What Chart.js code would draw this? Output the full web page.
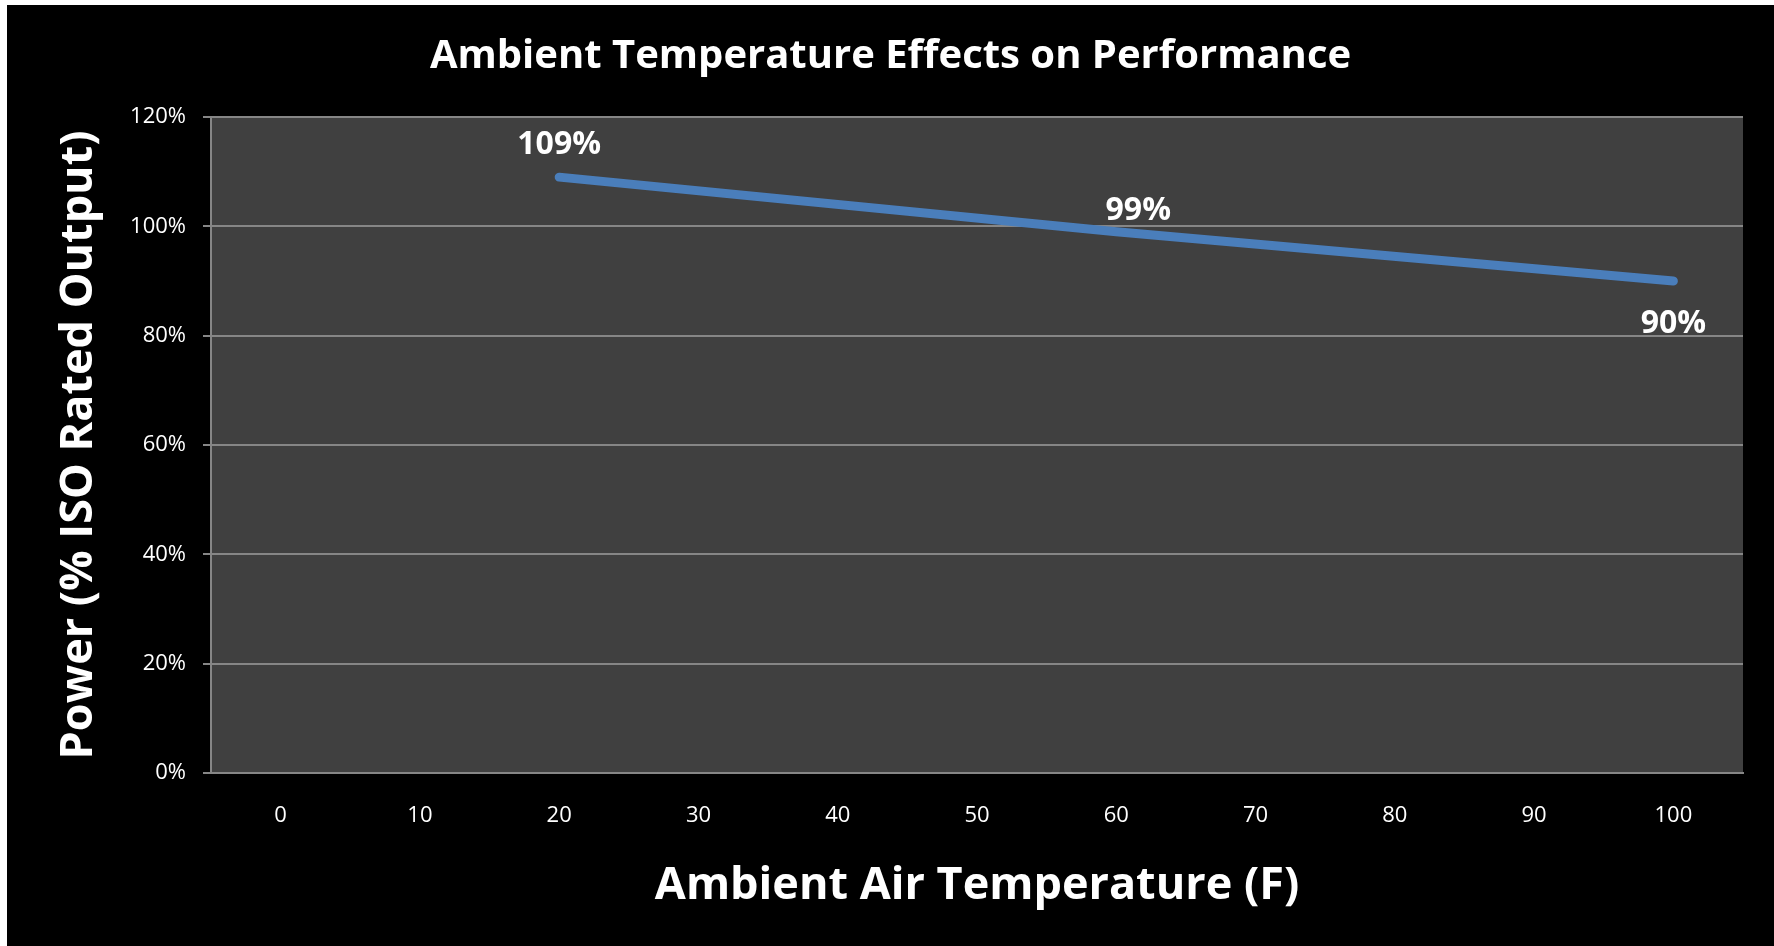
<!DOCTYPE html>
<html>
<head>
<meta charset="utf-8">
<script src="https://cdn.jsdelivr.net/npm/chart.js@4.4.0/dist/chart.umd.min.js"></script>
<style>
  html, body { margin: 0; padding: 0; background: #fff; }
  #wrap { position: absolute; left: 7px; top: 5px; width: 1767px; height: 941px; background: #000; }
</style>
</head>
<body>
<div id="wrap"><canvas id="chart"></canvas></div>
<script>
const TEMPERATURES = ["0", "10", "20", "30", "40", "50", "60", "70", "80", "90", "100"];
// only three readings on the chart, the line joins them
const POWER = [null, null, 109, null, null, null, 99, null, null, null, 90];
const Y_MIN = 0;
const Y_MAX = 120;
const Y_STEP = 20;

const TEXT_FONT = "'Open Sans', 'Liberation Sans', sans-serif";
const GRID_COLOR = "#868686";

// where each value label sits relative to its point
const LABEL_PLACE = {
  2: { dx: 0, dy: -32 },
  6: { dx: 22, dy: -21 },
  10: { dx: 0, dy: 43 },
};

const plotBackground = {
  id: "plotBackground",
  beforeDraw(chart) {
    const { ctx, chartArea: a } = chart;
    ctx.save();
    ctx.fillStyle = "#404040";
    ctx.fillRect(a.left, a.top, a.right - a.left, a.bottom - a.top);
    ctx.restore();
  }
};

const valueLabels = {
  id: "valueLabels",
  afterDatasetsDraw(chart) {
    const ctx = chart.ctx;
    const meta = chart.getDatasetMeta(0);
    ctx.save();
    ctx.font = "bold 32px " + TEXT_FONT;
    ctx.fillStyle = "#fff";
    ctx.textAlign = "center";
    ctx.textBaseline = "middle";
    POWER.forEach((v, i) => {
      if (v === null) return;
      const pt = meta.data[i];
      const place = LABEL_PLACE[i] || { dx: 0, dy: -30 };
      ctx.fillText(v + "%", pt.x + place.dx, pt.y + place.dy);
    });
    ctx.restore();
  }
};

new Chart(document.getElementById("chart"), {
  type: "line",
  data: {
    labels: TEMPERATURES,
    datasets: [{
      data: POWER,
      borderColor: "#4a7ebb",
      borderWidth: 9,
      borderCapStyle: "round",
      borderJoinStyle: "round",
      pointRadius: 0,
      spanGaps: true,
      tension: 0,
    }]
  },
  options: {
    responsive: true,
    maintainAspectRatio: false,
    animation: false,
    layout: { padding: 0 },
    plugins: {
      legend: { display: false },
      tooltip: { enabled: false },
      title: {
        display: true,
        text: "Ambient Temperature Effects on Performance",
        color: "#fff",
        font: { family: TEXT_FONT, size: 40, weight: "bold" },
        padding: { top: 28, bottom: 36 },
      },
    },
    scales: {
      x: {
        type: "category",
        offset: true,
        grid: { display: false, drawTicks: false },
        border: { display: true, color: GRID_COLOR, width: 2 },
        ticks: {
          color: "#fff",
          font: { family: TEXT_FONT, size: 22 },
          padding: 29.8,
          maxRotation: 0,
        },
        title: {
          display: true,
          text: "Ambient Air Temperature (F)",
          color: "#fff",
          font: { family: TEXT_FONT, size: 45, weight: "bold" },
          padding: { top: 0, bottom: 33 },
        },
        afterFit(scale) { scale.height = 173; },
      },
      y: {
        min: Y_MIN,
        max: Y_MAX,
        grid: { color: GRID_COLOR, lineWidth: 2, drawTicks: true, tickLength: 8 },
        border: { display: true, color: GRID_COLOR, width: 2 },
        ticks: {
          stepSize: Y_STEP,
          color: "#fff",
          font: { family: TEXT_FONT, size: 22 },
          padding: 17,
          callback: (v) => v + "%",
        },
        title: {
          display: true,
          text: "Power (% ISO Rated Output)",
          color: "#fff",
          font: { family: TEXT_FONT, size: 45, weight: "bold" },
          padding: { top: 45, bottom: 0 },
        },
        afterFit(scale) { scale.width = 204; },
      },
      // empty right strip so the title stays centred on the whole picture
      yRight: {
        position: "right",
        grid: { display: false, drawTicks: false },
        border: { display: false },
        ticks: { display: false },
        afterFit(scale) { scale.width = 31; },
      },
    },
  },
  plugins: [plotBackground, valueLabels],
});
</script>
</body>
</html>
